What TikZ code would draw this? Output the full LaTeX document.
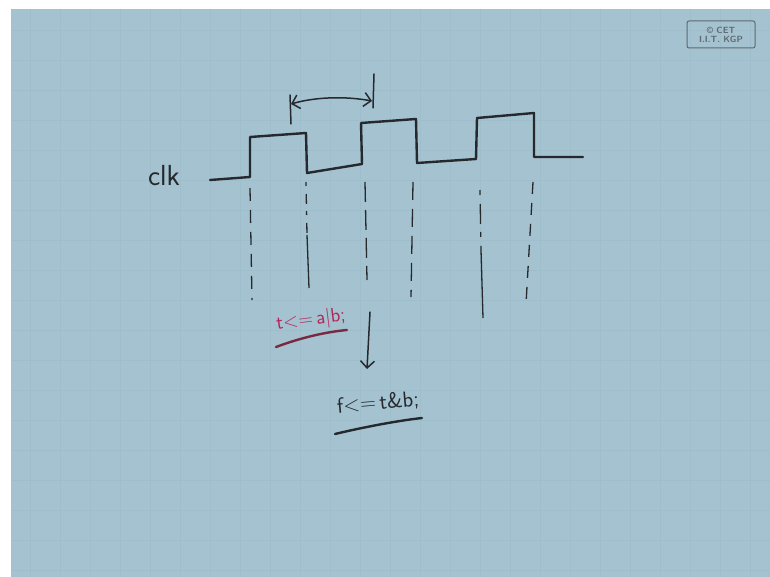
\documentclass[tikz,border=0pt]{standalone}
\usetikzlibrary{arrows.meta}
\definecolor{board}{HTML}{A4C2D0}
\definecolor{gridc}{HTML}{9FBECC}
\definecolor{ink}{HTML}{25292D}
\definecolor{redink}{HTML}{B3285A}
\definecolor{redline}{HTML}{7A2A40}
\definecolor{stampc}{HTML}{5E6A70}
\begin{document}
\begin{tikzpicture}[x=1pt,y=-1pt,
  wave/.style={ink, line width=2.4pt, line join=round, line cap=round},
  guide/.style={ink, line width=1.3pt, dash pattern=on 13pt off 9pt},
  guidesolid/.style={ink, line width=1.3pt},
  hand/.style={ink, line width=1.5pt, line cap=round},
  barb/.style={-{Straight Barb[length=7pt,width=14pt,line width=1.5pt]}},
  lbl/.style={font=\sffamily, inner sep=0pt},
  stamp/.style={draw=stampc, rounded corners=2pt, line width=1pt, text=stampc,
    font=\sffamily\bfseries\fontsize{9}{9}\selectfont, align=center,
    minimum width=68pt, minimum height=27pt, inner sep=0pt}]
\useasboundingbox (0,0) rectangle (770,577);
\fill[white] (0,0) rectangle (770,577);
\fill[board] (11,9) rectangle (770,577);
\foreach \gx in {30,60,...,750} \draw[gridc, line width=0.5pt] (\gx,9) -- (\gx,577);
\foreach \gy in {30,60,...,570} \draw[gridc, line width=0.5pt] (11,\gy) -- (770,\gy);

% watermark
\node[stamp] (wm) at (721,34.5) {\copyright\ CET\\[0pt] I.I.T. KGP};

% clk label
\node[lbl, font=\sffamily\fontsize{29}{30}\selectfont, text=ink] (clk) at (164,176) {clk};

% clock waveform
\coordinate (w0) at (210,180);
\draw[wave] (w0) -- (250,177) -- (250,137) -- (306,133) -- (307,173)
  -- (362,164) -- (361,123) -- (416,119) -- (417,163)
  -- (476,159) -- (477,118) -- (534,113) -- (534,157) -- (583,157);

% period marker
\coordinate (tl1) at (290,95);  \coordinate (tl2) at (291,124);
\coordinate (tr1) at (374,74);  \coordinate (tr2) at (373,108);
\draw[hand] (tl1) -- (tl2);
\draw[hand] (tr1) -- (tr2);
\coordinate (al) at (291,104);
\coordinate (ar) at (372,101);
\draw[hand, {Straight Barb[length=7pt,width=14pt,line width=1.5pt]}-{Straight Barb[length=7pt,width=14pt,line width=1.5pt]}]
  (al) .. controls (315,97) and (345,96) .. (ar);

% edge guides
\coordinate (g1a) at (250,188); \coordinate (g1b) at (252,300);
\coordinate (g2a) at (306,182); \coordinate (g2m) at (307,235); \coordinate (g2b) at (309,288);
\coordinate (g3a) at (365,182); \coordinate (g3b) at (367,280);
\coordinate (g4a) at (413,182); \coordinate (g4b) at (411,297);
\coordinate (g5a) at (480,190); \coordinate (g5m) at (481,250); \coordinate (g5b) at (483,318);
\coordinate (g6a) at (533,182); \coordinate (g6b) at (526,304);
\draw[guide] (g1a) -- (g1b);
\draw[guide, dash pattern=on 4pt off 8pt on 10pt off 7pt] (g2a) -- (g2m);
\draw[guidesolid] (g2m) -- (g2b);
\draw[guide, dash pattern=on 20pt off 8pt] (g3a) -- (g3b);
\draw[guide, dash pattern=on 18pt off 9pt] (g4a) -- (g4b);
\draw[guide, dash pattern=on 5pt off 9pt on 20pt off 8pt] (g5a) -- (g5m);
\draw[guidesolid] (g5m) -- (g5b);
\draw[guide, dash pattern=on 12pt off 9pt] (g6a) -- (g6b);

% t <= a|b;
\node[lbl, font=\sffamily\fontsize{20}{21}\selectfont, text=redink, rotate=7] (tab) at (311,320) {t<=\,a|b;};
\draw[redline, line width=2.4pt, line cap=round] (276,347) .. controls (300,338) and (325,332) .. (347,330);

% arrow to next statement
\coordinate (d1) at (370,312);
\coordinate (d2) at (367,369);
\draw[hand, barb] (d1) -- (d2);

% f <= t&b;
\node[lbl, font=\sffamily\fontsize{22}{24}\selectfont, text=ink, rotate=5] (ftb) at (378,403) {f<=\,t\&b;};
\draw[ink, line width=2.4pt, line cap=round] (335,434) .. controls (360,428) and (395,421) .. (422,418);
\end{tikzpicture}
\end{document}
